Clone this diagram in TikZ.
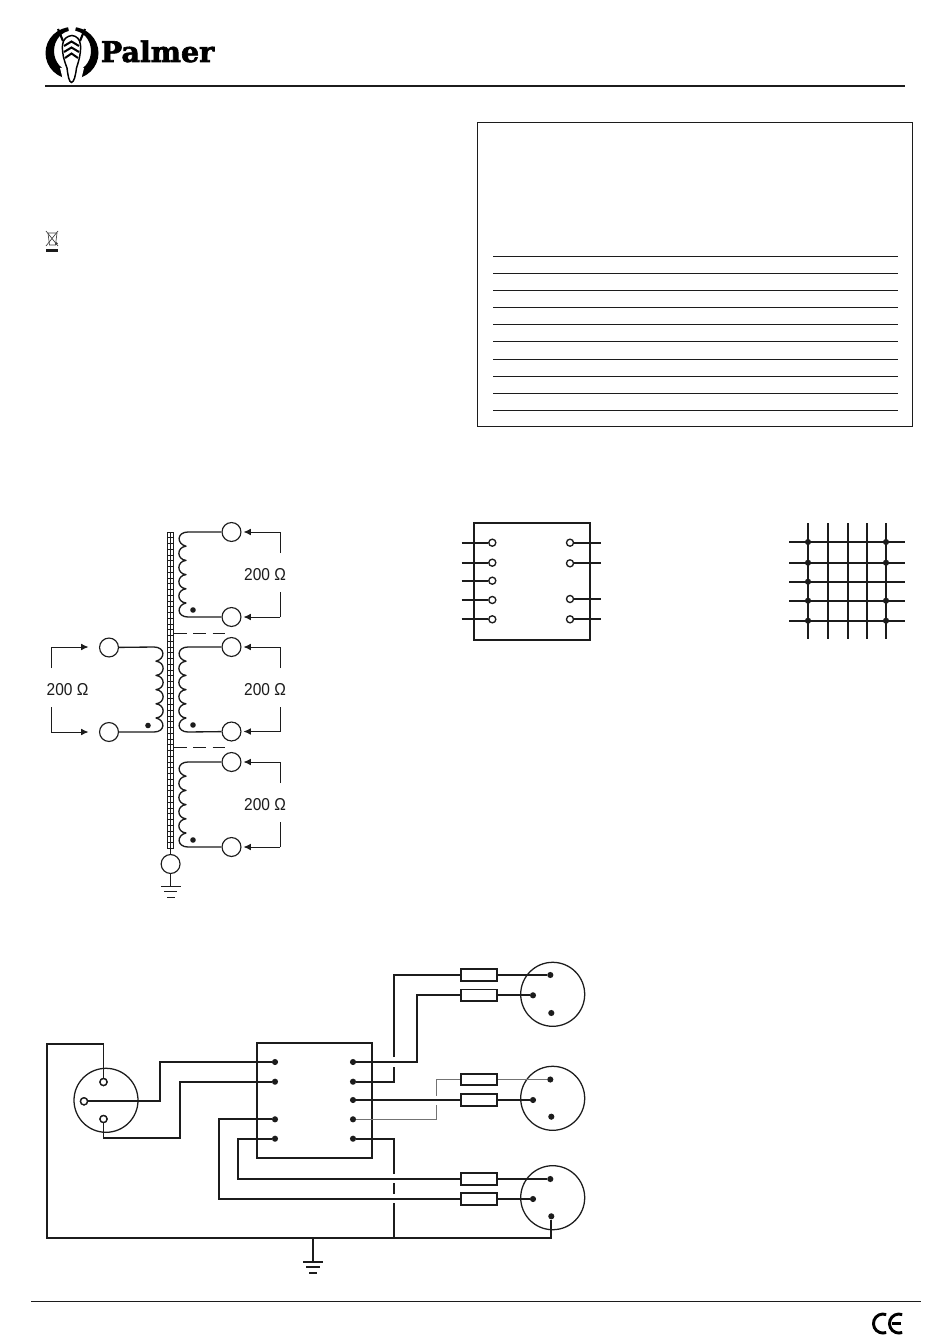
\documentclass[tikz,border=0pt]{standalone}
\usepackage{fontspec}
\setmainfont{Liberation Sans}
\newfontfamily\logofont[FakeBold=2.2]{DejaVu Serif Bold}
\newfontfamily\lblfont[FakeStretch=0.9]{Liberation Sans}
\usetikzlibrary{arrows.meta}
\definecolor{ink}{gray}{0.11}
\tikzset{
  hair/.style={line width=0.75pt,draw=ink},
  wire/.style={line width=1.35pt,draw=ink,line join=miter},
  graywire/.style={line width=1pt,draw=black!55},
  coilline/.style={line width=1pt,draw=ink,line join=round},
  dotn/.style={circle,fill=ink,inner sep=0pt,minimum size=4.6pt},
  term/.style={circle,draw=ink,fill=white,line width=0.85pt,inner sep=0pt,minimum size=14.2pt},
  opin/.style={circle,draw=ink,fill=white,line width=1pt,inner sep=0pt,minimum size=5.3pt},
  resbox/.style={rectangle,draw=ink,fill=white,line width=1.2pt,inner sep=0pt,minimum width=27.2pt,minimum height=8.6pt},
  conn/.style={circle,draw=ink,line width=0.95pt,inner sep=0pt,minimum size=48pt},
  lbl/.style={font=\lblfont\fontsize{12.9pt}{14pt}\selectfont,text=ink,inner sep=0pt},
  arr/.style={line width=0.7pt,draw=ink,-{Latex[length=5.5pt,width=5pt]}},
  brk/.style={line width=0.7pt,draw=ink},
  heavy/.style={line width=1.25pt,draw=ink}
}
% coil between two terminals: #1 top node, #2 bottom node, #3 cusp x, #4 bulge x, #5 line-end x, #6 top y
\newcommand{\wind}[6]{%
  \draw[coilline] (#1) -- (#5,#6)
    .. controls (#4+0.0,#6) and (#4,#6+12) .. (#3,#6+14.2)
    .. controls (#4,#6+15.2) and (#4,#6+27.4) .. (#3,#6+28.4)
    .. controls (#4,#6+29.4) and (#4,#6+41.6) .. (#3,#6+42.6)
    .. controls (#4,#6+43.6) and (#4,#6+55.8) .. (#3,#6+56.8)
    .. controls (#4,#6+57.8) and (#4,#6+70.0) .. (#3,#6+71.0)
    .. controls (#4,#6+73) and (#4,#6+85) .. (#5,#6+85) -- (#2);}
\begin{document}
\begin{tikzpicture}[x=0.75pt,y=-0.75pt]
\useasboundingbox (0,0) rectangle (950,1344);
\fill[white] (0,0) rectangle (950,1344);
% ---- logo
\fill[black,even odd rule] (72,53) ellipse[x radius=26.5,y radius=26] (72.5,51) ellipse[x radius=18.5,y radius=20.5];
\fill[white] (67,20) -- (77,20) -- (74,38) -- (70,38) -- cycle;
\fill[white] (60,68) -- (84,68) -- (80,84) -- (64,84) -- cycle;
\draw[line width=1.6pt,black] (63,41) -- (58,29);
\draw[line width=1.6pt,black] (80,41) -- (85,29);
\draw[line width=1.1pt,black,fill=white] (72,35.5) .. controls (67,36) and (63,39) .. (62.5,45)
  .. controls (62,54) and (64,60) .. (67,68) .. controls (68,76) and (69,82) .. (71.5,82.5)
  .. controls (74,82) and (75.5,76) .. (76.5,68) .. controls (79,60) and (81,54) .. (80.5,45)
  .. controls (80,39) and (76.5,36) .. (72,35.5) -- cycle;
\draw[line width=1.5pt,black] (64,46) -- (71.5,41.5) -- (79,46);
\draw[line width=1.5pt,black] (64,52) -- (71.5,47.5) -- (79,52);
\draw[line width=1.5pt,black] (65,58) -- (71.5,53.5) -- (78,58);
\node[anchor=base west,inner sep=0pt,font=\logofont\fontsize{21.4pt}{24pt}\selectfont] (brand) at (100.5,62) {Palmer};
\draw[line width=1.25pt,ink] (45,86) -- (905,86);
% ---- disposal icon
\begin{scope}[line width=0.5pt,draw=black!75]
  \draw (48,233) -- (57,233) -- (55.5,245) -- (49.5,245) -- cycle;
  \draw (46,231) -- (58,246);
  \draw (58,231) -- (46,246);
  \fill[black!75] (56.5,243.5) circle (1.4);
\end{scope}
\fill[ink] (46,249.3) rectangle (58,252);
% ---- table frame
\draw[hair] (477.5,123) rectangle (912.5,426.6);
\foreach \y in {256.7,273.7,290.7,307.7,324.6,341.7,359.5,376.7,393.7,410.6}
  \draw[hair] (493,\y) -- (898,\y);
% ---- transformer core
\draw[line width=0.6pt,ink] (167.5,532) rectangle (173.7,848.5);
\draw[line width=0.45pt,ink] (170.6,532) -- (170.6,848.5);
\foreach \k in {1,...,54}
  \draw[line width=0.5pt,ink] (167.5,532+\k*5.75) -- (173.7,532+\k*5.75);
\foreach \y in {633.5,747.5}
  \draw[line width=0.75pt,ink,dash pattern=on 9.5pt off 5pt] (174,\y) -- (225,\y);
% ---- terminals
\node[term] (s1a) at (231.5,532) {};
\node[term] (s1b) at (231.5,617) {};
\node[term] (s2a) at (231.5,647) {};
\node[term] (s2b) at (231.5,731.5) {};
\node[term] (s3a) at (231.5,762) {};
\node[term] (s3b) at (231.5,847) {};
\node[term] (pa) at (109,647.5) {};
\node[term] (pb) at (109,732) {};
\node[term] (gnd) at (170.6,864) {};
% ---- windings
\wind{s1a}{s1b}{186}{176.5}{188}{532}
\wind{s2a}{s2b}{186}{176.5}{188}{647}
\wind{s3a}{s3b}{186}{176.5}{188}{762}
\wind{pa}{pb}{156}{165.5}{154}{647}
\node[dotn,minimum size=4.2pt] (d1) at (193,610) {};
\node[dotn,minimum size=4.2pt] (d2) at (193,725) {};
\node[dotn,minimum size=4.2pt] (d3) at (193,840) {};
\node[dotn,minimum size=4.2pt] (d4) at (148,725.5) {};
% ---- ground of the core
\coordinate (coreb) at (170.6,848.5);
\coordinate (g1) at (170.6,886);
\draw[hair] (coreb) -- (gnd);
\draw[hair] (gnd) -- (g1);
\draw[hair] (161,886) -- (181,886);
\draw[hair] (164,891.7) -- (177,891.7);
\draw[hair] (167,897) -- (175,897);
% ---- impedance labels and brackets
\foreach \n/\a/\b/\m in {A/532/617/575,B/647/731.5/690,C/762/847/805}{
  \node[lbl] (imp\n) at (265,\m) {200 Ω};
  \coordinate (t\n) at (280,\a);
  \coordinate (u\n) at (280,\b);
  \coordinate (ta\n) at (243.5,\a);
  \coordinate (ub\n) at (243.5,\b);
  \draw[brk] (280,\m-22) -- (t\n);
  \draw[arr] (t\n) -- (ta\n);
  \draw[brk] (280,\m+17) -- (u\n);
  \draw[arr] (u\n) -- (ub\n);
}
\node[lbl] (impP) at (67.5,690) {200 Ω};
\coordinate (tP) at (51,647);
\coordinate (uP) at (51,732);
\coordinate (taP) at (88.5,647);
\coordinate (ubP) at (88.5,732);
\draw[brk] (51,668) -- (tP);
\draw[arr] (tP) -- (taP);
\draw[brk] (51,707) -- (uP);
\draw[arr] (uP) -- (ubP);
% ---- pin-out box
\draw[heavy] (474,523) rectangle (590,640);
\foreach \n/\y in {1/542.7,2/562.7,3/580.7,4/600,5/619.3}{
  \node[opin] (pl\n) at (492.3,\y) {};
  \coordinate (pe\n) at (461.5,\y);
  \draw[heavy] (pe\n) -- (pl\n);
}
\foreach \n/\y in {1/542.7,2/563.3,4/599,5/619.3}{
  \node[opin] (pr\n) at (570,\y) {};
  \coordinate (qe\n) at (601,\y);
  \draw[heavy] (pr\n) -- (qe\n);
}
% ---- matrix
\foreach \x in {808,828,848,866.7,886}
  \draw[heavy] (\x,523) -- (\x,639);
\foreach \y in {542,562.7,581.7,600.7,620.7}
  \draw[heavy] (789,\y) -- (905,\y);
\foreach \y/\i in {542/a,562.7/b,581.7/c,600.7/d,620.7/e}
  \node[dotn] (ml\i) at (808,\y) {};
\foreach \y/\i in {542/a,562.7/b,600.7/d,620.7/e}
  \node[dotn] (mr\i) at (886,\y) {};
% ---- wiring box
\draw[wire] (257,1042.7) rectangle (372,1157.7);
\foreach \n/\y in {1/1062,2/1081.7,4/1119.3,5/1138.7}
  \node[dotn] (L\n) at (275,\y) {};
\foreach \n/\y in {1/1062,2/1081.7,3/1100,4/1119.3,5/1138.7}
  \node[dotn] (R\n) at (353,\y) {};
% ---- input connector
\node[conn] (xin) at (106,1100.3) {};
\node[opin] (x1) at (103.5,1082) {};
\node[opin] (x2) at (84,1101.3) {};
\node[opin] (x3) at (103.5,1119) {};
% ---- output connectors
\node[conn] (o1) at (552.7,994.3) {};
\node[conn] (o2) at (552.7,1098.3) {};
\node[conn] (o3) at (552.7,1197.7) {};
\foreach \c/\a/\b/\d in {1/975/995.3/1013,2/1079.5/1100/1116.7,3/1179/1199/1216.3}{
  \node[dotn] (o\c a) at (550.3,\a) {};
  \node[dotn] (o\c b) at (533,\b) {};
  \node[dotn] (o\c c) at (551.3,\d) {};
}
% ---- resistors
\node[resbox] (r1a) at (479,975) {};
\node[resbox] (r1b) at (479,995.3) {};
\node[resbox] (r2a) at (479,1079.5) {};
\node[resbox] (r2b) at (479,1100) {};
\node[resbox] (r3a) at (479,1179) {};
\node[resbox] (r3b) at (479,1199) {};
\draw[wire] (r1a.east) -- (o1a);
\draw[wire] (r1b.east) -- (o1b);
\draw[graywire] (r2a.east) -- (o2a);
\draw[wire] (r2b.east) -- (o2b);
\draw[wire] (r3a.east) -- (o3a);
\draw[wire] (r3b.east) -- (o3b);
% ---- wires from the input connector
\coordinate (top1) at (47,1044);
\coordinate (gl) at (47,1238);
\coordinate (gj) at (394,1238);
\coordinate (gr) at (551.3,1238);
\draw[wire] (x1) -- (103.5,1044) -- (top1) -- (gl) -- (gr) -- (o3c);
\draw[wire] (x2) -- (160,1101.3) -- (160,1062) -- (L1);
\draw[wire] (x3) -- (103.5,1137.7) -- (180,1137.7) -- (180,1081.7) -- (L2);
% redraw pins over wires
\node[opin] at (x1) {};
\node[opin] at (x2) {};
\node[opin] at (x3) {};
% ---- wires left side, going on to the third connector
\draw[wire] (L4) -- (219,1119.3) -- (219,1199) -- (r3b.west);
\draw[wire] (L5) -- (237.7,1138.7) -- (237.7,1179) -- (r3a.west);
% ---- wires right side
\draw[wire] (R1) -- (417,1062) -- (417,995.3) -- (r1b.west);
\draw[wire] (R2) -- (394,1081.7) -- (394,1066.7);
\draw[wire] (394,1057) -- (394,975) -- (r1a.west);
\draw[wire] (R3) -- (r2b.west);
\draw[graywire] (R4) -- (436.3,1119.3) -- (436.3,1105);
\draw[graywire] (436.3,1095.7) -- (436.3,1079.5) -- (r2a.west);
\draw[wire] (R5) -- (394,1138.7) -- (394,1174);
\draw[wire] (394,1183.3) -- (394,1194.3);
\draw[wire] (394,1203) -- (gj);
% ---- main ground
\coordinate (gt) at (312.7,1238);
\coordinate (gb) at (312.7,1261.7);
\draw[wire] (gt) -- (gb);
\draw[wire] (303,1261.7) -- (323,1261.7);
\draw[wire] (306,1267.3) -- (320.3,1267.3);
\draw[wire] (309,1273) -- (317,1273);
% ---- footer
\draw[line width=0.7pt,ink] (31,1301.7) -- (921,1301.7);
% ---- CE mark
\draw[line width=2.2pt,black] (886.2,1314.6) arc[start angle=-70,end angle=-290,radius=9.5];
\draw[line width=2.2pt,black] (902.2,1314.6) arc[start angle=-70,end angle=-290,radius=9.5];
\draw[line width=1.6pt,black] (892,1323.5) -- (901,1323.5);
\end{tikzpicture}
\end{document}
